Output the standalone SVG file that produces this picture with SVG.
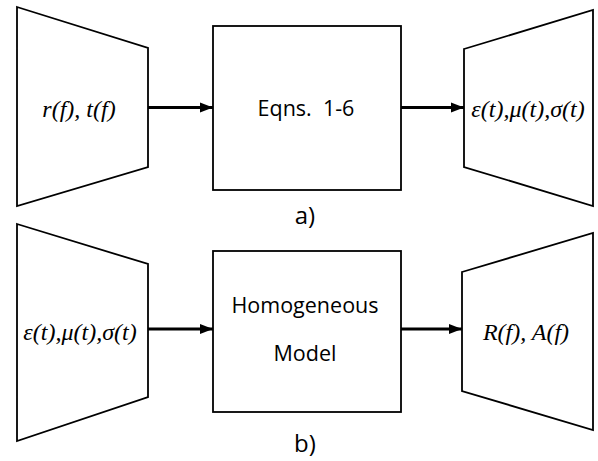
<svg xmlns="http://www.w3.org/2000/svg" width="598" height="461" viewBox="0 0 598 461">
<defs>
<marker id="ah" markerWidth="4.5" markerHeight="4" refX="4.5" refY="2" orient="auto" markerUnits="strokeWidth">
<path d="M0,0.3 L4.5,2 L0,3.7 Z" fill="#000"/>
</marker>
<style>
.shape{fill:#fff;stroke:#000;stroke-width:1.8}
.conn{stroke:#000;stroke-width:3;fill:none;marker-end:url(#ah)}
.math{font-family:"Liberation Serif","DejaVu Serif","Times New Roman",serif;font-style:italic;font-size:24px;text-anchor:middle;fill:#000}
.lbl{font-family:"Open Sans","Liberation Sans",sans-serif;font-size:21.5px;text-anchor:middle;fill:#000}
.cap{font-family:"Open Sans","Liberation Sans",sans-serif;font-size:24px;text-anchor:middle;fill:#000}
</style>
</defs>
<rect width="598" height="461" fill="#fff"/>
<g id="in-a">
<polygon class="shape" points="17,7 148,48 148,167 17,206"/>
<text class="math" x="79" y="117">r(f), t(f)</text>
</g>
<g id="eqns">
<rect class="shape" x="213" y="26" width="188" height="164"/>
<text class="lbl" x="306" y="116" xml:space="preserve">Eqns.  1-6</text>
</g>
<g id="out-a">
<polygon class="shape" points="464,49 593,10 593,206 464,167"/>
<text class="math" x="528" y="117">ε(t),μ(t),σ(t)</text>
</g>
<text class="cap" x="305" y="224">a)</text>
<g id="in-b">
<polygon class="shape" points="17,224 148,264 148,397 17,441"/>
<text class="math" x="80" y="340">ε(t),μ(t),σ(t)</text>
</g>
<g id="model">
<rect class="shape" x="213" y="251" width="188" height="161"/>
<text class="lbl" x="305" y="313">Homogeneous</text>
<text class="lbl" x="305" y="361">Model</text>
</g>
<g id="out-b">
<polygon class="shape" points="462,272 593,233 593,430 462,391"/>
<text class="math" x="526" y="340">R(f), A(f)</text>
</g>
<text class="cap" x="305" y="452">b)</text>
<g id="connectors">
<line class="conn" x1="148" y1="107.5" x2="213" y2="107.5"/>
<line class="conn" x1="401" y1="107.5" x2="464" y2="107.5"/>
<line class="conn" x1="148" y1="329" x2="213" y2="329"/>
<line class="conn" x1="401" y1="329" x2="462" y2="329"/>
</g>
</svg>
